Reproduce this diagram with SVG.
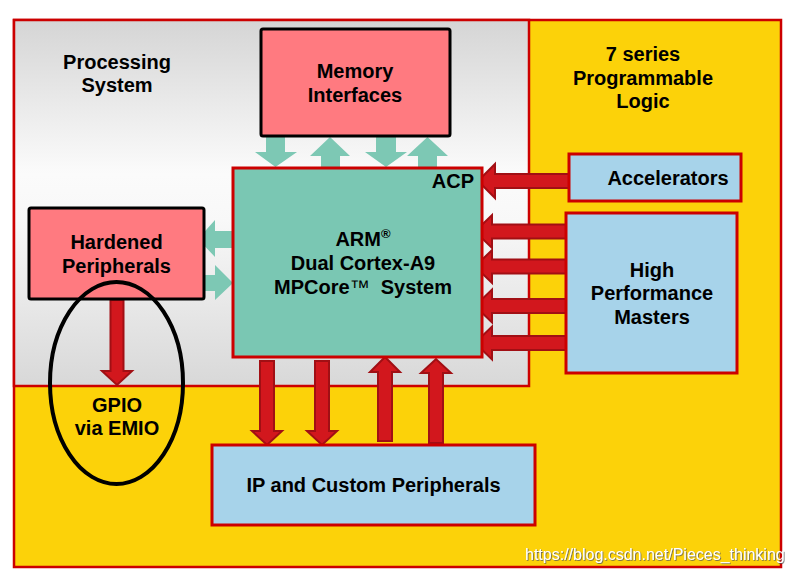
<svg xmlns="http://www.w3.org/2000/svg" width="792" height="574" viewBox="0 0 792 574">
<defs>
<linearGradient id="psg" x1="0" y1="0" x2="0" y2="1">
<stop offset="0" stop-color="#d5d5d5"/>
<stop offset="0.42" stop-color="#fbfbfb"/>
<stop offset="0.55" stop-color="#f8f8f8"/>
<stop offset="1" stop-color="#d8d8d8"/>
</linearGradient>
<filter id="sh" x="-5%" y="-30%" width="110%" height="160%">
<feDropShadow dx="0.8" dy="0.8" stdDeviation="0.6" flood-color="#555" flood-opacity="0.9"/>
</filter>
</defs>
<style>
text{font-family:"Liberation Sans",Arial,sans-serif;font-weight:bold;font-size:20px;fill:#000;text-anchor:middle}
.pink{fill:#FF7A80;stroke:#000;stroke-width:3}
.blue{fill:#A7D3EA;stroke:#CC0000;stroke-width:3}
.teal{fill:#7AC7B3;stroke:#CC0000;stroke-width:3}
.ra{fill:#D2171D;stroke:#A10F14;stroke-width:2;stroke-linejoin:miter}
.ta{fill:#7DC8B4;stroke:none}
.wm{font-weight:normal;font-size:16px;fill:#fff;text-anchor:start}
</style>
<rect width="792" height="574" fill="#fff"/>
<g id="pl">
<rect x="14" y="20" width="767" height="547" fill="#FCD209" stroke="#CC0000" stroke-width="2.5"/>
<text x="643" y="61">7 series</text>
<text x="643" y="85">Programmable</text>
<text x="643" y="108">Logic</text>
</g>
<g id="ps">
<rect x="14" y="20" width="515" height="366" fill="url(#psg)" stroke="#CC0000" stroke-width="2.5"/>
<text x="117" y="69">Processing</text>
<text x="117" y="92">System</text>
</g>
<g id="connectors">
<!-- teal memory arrows -->
<polygon class="ta" points="266,137 285,137 285,152 297,152 275.5,167 255,152 266,152"/>
<polygon class="ta" points="321,168 340,168 340,156 350,156 330,137 310,156 321,156"/>
<polygon class="ta" points="376,137 396,137 396,152 407,152 386,167 365,152 376,152"/>
<polygon class="ta" points="418,168 437,168 437,156 448,156 427.5,137 407,156 418,156"/>
<!-- teal hardened arrows -->
<polygon class="ta" points="233,231 215,231 215,220 198,239 215,257 215,248 233,248"/>
<polygon class="ta" points="204,275 215,275 215,265 233,283 215,300 215,291 204,291"/>
<!-- ACP -->
<polygon class="ra" points="478,181 495,164 495,174 569,174 569,188 495,188 495,198"/>
<!-- HPM arrows -->
<polygon class="ra" points="475,231.5 492,215 492,224.5 566,224.5 566,238.5 492,238.5 492,248"/>
<polygon class="ra" points="475,266.5 492,250 492,259.5 566,259.5 566,273.5 492,273.5 492,283"/>
<polygon class="ra" points="475,306 492,289.5 492,299 566,299 566,313 492,313 492,322.5"/>
<polygon class="ra" points="475,343 492,326.5 492,336 566,336 566,350 492,350 492,359.5"/>
<!-- down to IP -->
<polygon class="ra" points="260,361 274,361 274,431 282,431 267,445 252,431 260,431"/>
<polygon class="ra" points="315,361 329,361 329,431 337,431 322,445 307,431 315,431"/>
<!-- up from IP -->
<polygon class="ra" points="378,441 392,441 392,372 400,372 385,357 370,372 378,372"/>
<polygon class="ra" points="429,443 443,443 443,373 451,373 436,359 421,373 429,373"/>
<!-- hardened to GPIO -->
<polygon class="ra" points="110.5,300 123.5,300 123.5,371 132,371 117,385 102,371 110.5,371"/>
</g>
<g id="memory">
<rect class="pink" x="261" y="29" width="189" height="107" rx="2"/>
<text x="355" y="78">Memory</text>
<text x="355" y="102">Interfaces</text>
</g>
<g id="arm">
<rect class="teal" x="233" y="168" width="249" height="189"/>
<text x="363" y="246">ARM<tspan font-size="13" dy="-8">®</tspan></text>
<text x="363" y="270">Dual Cortex-A9</text>
<text x="363" y="294" xml:space="preserve">MPCore<tspan font-weight="normal">™</tspan>  System</text>
<text x="474" y="188" style="text-anchor:end">ACP</text>
</g>
<g id="hardened">
<rect class="pink" x="29" y="208" width="175" height="91" rx="2"/>
<text x="116.5" y="249">Hardened</text>
<text x="116.5" y="273">Peripherals</text>
</g>
<g id="gpio">
<ellipse cx="116.5" cy="383" rx="66.5" ry="101" fill="none" stroke="#000" stroke-width="4"/>
<text x="117" y="412">GPIO</text>
<text x="117" y="435">via EMIO</text>
</g>
<g id="accelerators">
<rect class="blue" x="569" y="154" width="172" height="47"/>
<text x="668" y="185">Accelerators</text>
</g>
<g id="hpm">
<rect class="blue" x="566" y="213" width="171" height="160"/>
<text x="652" y="277">High</text>
<text x="652" y="300">Performance</text>
<text x="652" y="324">Masters</text>
</g>
<g id="ip">
<rect class="blue" x="212" y="445" width="323" height="80"/>
<text x="373.5" y="492">IP and Custom Peripherals</text>
</g>
<text class="wm" x="525" y="560" filter="url(#sh)">https://blog.csdn.net/Pieces_thinking</text>
</svg>
